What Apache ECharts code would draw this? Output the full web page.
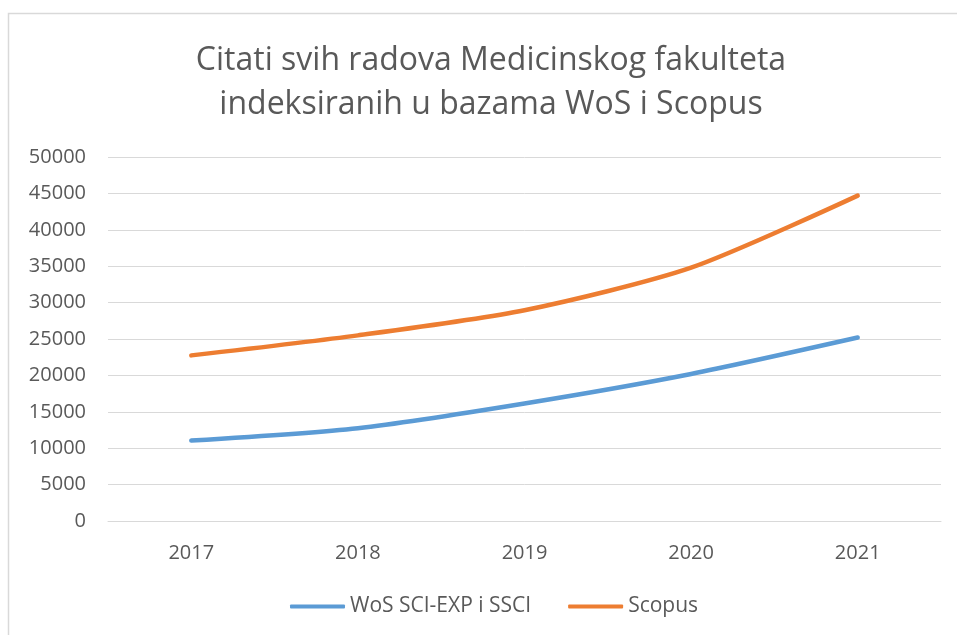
<!DOCTYPE html>
<html>
<head>
<meta charset="utf-8">
<script src="https://cdn.jsdelivr.net/npm/echarts@6/dist/echarts.min.js"></script>
<style>
  html, body { margin: 0; padding: 0; background: #fff; }
  #chart { width: 957px; height: 635px; }
</style>
</head>
<body>
<div id="chart"></div>
<script>
// podaci
var years = ["2017", "2018", "2019", "2020", "2021"];
var wosValues = [11050, 12750, 16150, 20200, 25200];
var scopusValues = [22750, 25500, 28950, 34800, 44700];
var seriesNames = ["WoS SCI-EXP i SSCI", "Scopus"];

var textColor = "#595959";
var fontName = "'Open Sans', 'Noto Sans', sans-serif";

var chart = echarts.init(document.getElementById("chart"));

var option = {
  backgroundColor: "#fff",
  animation: false,
  color: ["#5B9BD5", "#ED7D31"],
  title: {
    text: "Citati svih radova Medicinskog fakulteta\nindeksiranih u bazama WoS i Scopus",
    left: 486,
    top: 34,
    textAlign: "center",
    textStyle: {
      fontFamily: fontName,
      fontSize: 32,
      fontWeight: "normal",
      color: textColor,
      lineHeight: 44
    }
  },
  legend: {
    bottom: 13,
    left: 285,
    itemWidth: 55,
    itemHeight: 4,
    itemGap: 37,
    icon: "roundRect",
    textStyle: { fontFamily: fontName, fontSize: 21, color: textColor },
    data: seriesNames
  },
  grid: { left: 108, right: 16, top: 157, bottom: 114 },
  xAxis: {
    type: "category",
    data: years,
    boundaryGap: true,
    axisLine: { lineStyle: { color: "#d9d9d9", width: 1 } },
    axisTick: { show: false },
    axisLabel: { fontFamily: fontName, fontSize: 20, color: textColor, margin: 22 }
  },
  yAxis: {
    type: "value",
    min: 0,
    max: 50000,
    interval: 5000,
    axisLine: { show: false },
    axisTick: { show: false },
    axisLabel: {
      fontFamily: fontName, fontSize: 20, color: textColor, margin: 22,
      formatter: function (v) { return String(v); }
    },
    splitLine: { lineStyle: { color: "#d9d9d9", width: 1 } }
  },
  graphic: [{
    type: "rect",
    shape: { x: 8.5, y: 13.5, width: 1000, height: 700 },
    style: { fill: "none", stroke: "#d9d9d9", lineWidth: 1.5 },
    silent: true
  }],
  series: [
    {
      name: seriesNames[0],
      type: "line",
      data: wosValues,
      smooth: 0.25,
      showSymbol: false,
      lineStyle: { width: 4.5, cap: "round" }
    },
    {
      name: seriesNames[1],
      type: "line",
      data: scopusValues,
      smooth: 0.25,
      showSymbol: false,
      lineStyle: { width: 4.5, cap: "round" }
    }
  ]
};

chart.setOption(option);
</script>
</body>
</html>
